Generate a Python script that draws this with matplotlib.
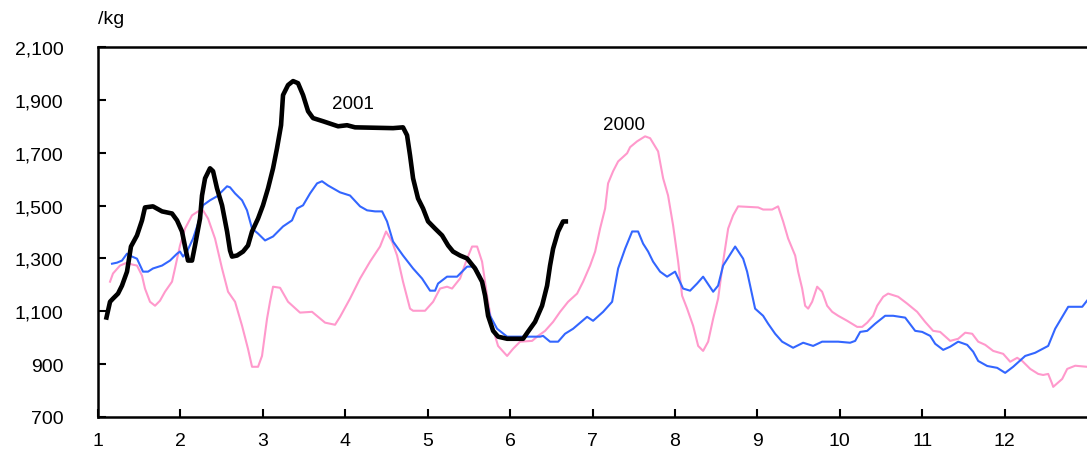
import matplotlib
matplotlib.use("Agg")
import matplotlib.pyplot as plt

plt.rcParams["font.family"] = ["Liberation Sans", "DejaVu Sans"]

# 2001 price path (month position, yen/kg)
m2001 = [1.097, 1.146, 1.182, 1.243, 1.291, 1.352, 1.400, 1.473, 1.534, 1.570,
         1.667, 1.777, 1.898, 1.959, 2.019, 2.056, 2.092, 2.141, 2.177, 2.238,
         2.262, 2.299, 2.359, 2.396, 2.444, 2.505, 2.566, 2.602, 2.626, 2.687,
         2.760, 2.820, 2.869, 2.942, 3.002, 3.063, 3.124, 3.172, 3.221, 3.245,
         3.306, 3.367, 3.427, 3.488, 3.549, 3.609, 3.731, 3.913, 4.022, 4.119,
         4.580, 4.701, 4.750, 4.786, 4.823, 4.883, 4.944, 5.005, 5.090, 5.175,
         5.248, 5.308, 5.393, 5.478, 5.575, 5.660, 5.697, 5.733, 5.794, 5.854,
         5.964, 6.158, 6.218, 6.303, 6.388, 6.449, 6.485, 6.522, 6.583, 6.643,
         6.704]
p2001 = [1068, 1136, 1148, 1167, 1197, 1250, 1345, 1387, 1444, 1493,
         1497, 1478, 1470, 1444, 1402, 1345, 1292, 1292, 1349, 1451,
         1538, 1603, 1641, 1630, 1565, 1501, 1402, 1330, 1307, 1311,
         1326, 1349, 1402, 1451, 1501, 1565, 1641, 1717, 1804, 1918,
         1956, 1971, 1963, 1918, 1857, 1831, 1819, 1800, 1804, 1796,
         1793, 1796, 1766, 1690, 1603, 1527, 1489, 1440, 1413, 1387,
         1349, 1326, 1311, 1300, 1262, 1212, 1159, 1083, 1026, 1004,
         996, 996, 1023, 1060, 1121, 1197, 1273, 1337, 1402, 1440,
         1440]

# 2000 price path
m2000 = [1.146, 1.182, 1.267, 1.352, 1.413, 1.473, 1.534, 1.570, 1.631, 1.692,
         1.752, 1.813, 1.898, 1.934, 1.995, 2.056, 2.141, 2.214, 2.274, 2.335,
         2.420, 2.505, 2.578, 2.663, 2.748, 2.820, 2.869, 2.942, 2.990, 3.051,
         3.087, 3.124, 3.209, 3.306, 3.451, 3.597, 3.755, 3.876, 3.937, 4.058,
         4.180, 4.301, 4.422, 4.495, 4.568, 4.629, 4.701, 4.786, 4.823, 4.968,
         5.066, 5.150, 5.235, 5.296, 5.393, 5.478, 5.539, 5.600, 5.660, 5.721,
         5.782, 5.854, 5.964, 6.036, 6.121, 6.267, 6.340, 6.425, 6.522, 6.607,
         6.704, 6.813, 6.886, 6.971, 7.032, 7.092, 7.153, 7.189, 7.250, 7.311,
         7.420, 7.456, 7.541, 7.638, 7.699, 7.796, 7.857, 7.917, 7.978, 8.039,
         8.087, 8.148, 8.221, 8.282, 8.342, 8.403, 8.464, 8.524, 8.585, 8.646,
         8.706, 8.767, 9.010, 9.070, 9.180, 9.252, 9.313, 9.374, 9.459, 9.495,
         9.544, 9.580, 9.617, 9.665, 9.726, 9.786, 9.847, 9.908, 9.981, 10.090,
         10.211, 10.272, 10.333, 10.405, 10.454, 10.527, 10.587, 10.709, 10.818, 10.939,
         11.036, 11.133, 11.218, 11.340, 11.437, 11.522, 11.607, 11.680, 11.765, 11.862,
         11.983, 12.068, 12.153, 12.214, 12.311, 12.408, 12.468, 12.529, 12.578, 12.590,
         12.699, 12.760, 12.857, 13.000]
p2000 = [1212, 1243, 1273, 1284, 1277, 1273, 1235, 1186, 1136, 1121,
         1140, 1174, 1212, 1262, 1349, 1413, 1463, 1478, 1482, 1451,
         1375, 1262, 1174, 1136, 1045, 958, 890, 890, 931, 1072,
         1136, 1193, 1189, 1136, 1095, 1098, 1057, 1049, 1079, 1148,
         1224, 1288, 1345, 1402, 1364, 1311, 1212, 1110, 1102, 1102,
         1136, 1186, 1193, 1186, 1224, 1299, 1345, 1345, 1288, 1159,
         1045, 969, 931, 958, 985, 988, 1007, 1026, 1060, 1098,
         1136, 1167, 1212, 1273, 1326, 1413, 1489, 1584, 1630, 1667,
         1698, 1721, 1743, 1762, 1755, 1705, 1603, 1538, 1425, 1288,
         1159, 1110, 1045, 969, 950, 985, 1072, 1148, 1288, 1413,
         1463, 1497, 1493, 1485, 1485, 1497, 1440, 1375, 1311, 1250,
         1186, 1121, 1110, 1136, 1193, 1174, 1121, 1098, 1083, 1064,
         1041, 1041, 1057, 1083, 1121, 1155, 1167, 1155, 1129, 1098,
         1060, 1026, 1022, 988, 996, 1019, 1015, 985, 973, 950,
         939, 909, 924, 912, 882, 863, 859, 863, 825, 814,
         844, 882, 894, 890]

# average price path
m_avg = [1.170, 1.231, 1.291, 1.352, 1.413, 1.473, 1.546, 1.607, 1.667, 1.777,
         1.874, 1.959, 1.995, 2.032, 2.080, 2.153, 2.214, 2.274, 2.359, 2.444,
         2.505, 2.566, 2.602, 2.663, 2.748, 2.808, 2.869, 2.942, 3.027, 3.124,
         3.245, 3.354, 3.415, 3.488, 3.573, 3.658, 3.718, 3.791, 3.937, 4.058,
         4.180, 4.265, 4.362, 4.447, 4.507, 4.580, 4.701, 4.823, 4.932, 5.029,
         5.090, 5.126, 5.235, 5.357, 5.478, 5.575, 5.636, 5.697, 5.757, 5.842,
         5.964, 6.364, 6.400, 6.485, 6.583, 6.667, 6.765, 6.934, 7.007, 7.129,
         7.238, 7.311, 7.396, 7.481, 7.553, 7.614, 7.675, 7.735, 7.820, 7.905,
         8.002, 8.099, 8.184, 8.269, 8.342, 8.464, 8.524, 8.585, 8.731, 8.828,
         8.876, 8.973, 9.070, 9.131, 9.216, 9.301, 9.434, 9.556, 9.677, 9.786,
         9.981, 10.126, 10.187, 10.248, 10.333, 10.430, 10.551, 10.648, 10.794, 10.915,
         11.000, 11.097, 11.158, 11.255, 11.340, 11.437, 11.546, 11.619, 11.680, 11.789,
         11.910, 12.007, 12.104, 12.250, 12.371, 12.529, 12.614, 12.699, 12.772, 12.942,
         13.000]
p_avg = [1280, 1284, 1292, 1318, 1307, 1299, 1250, 1250, 1262, 1273,
         1292, 1318, 1326, 1307, 1326, 1375, 1432, 1501, 1520, 1535,
         1554, 1573, 1569, 1546, 1520, 1482, 1413, 1394, 1368, 1383,
         1421, 1444, 1489, 1501, 1546, 1584, 1592, 1576, 1550, 1538,
         1497, 1482, 1478, 1478, 1440, 1364, 1311, 1262, 1224, 1178,
         1178, 1205, 1231, 1231, 1269, 1269, 1235, 1159, 1083, 1034,
         1004, 1004, 1007, 985, 985, 1015, 1034, 1079, 1064, 1098,
         1136, 1262, 1337, 1402, 1402, 1356, 1326, 1288, 1250, 1231,
         1250, 1186, 1178, 1205, 1231, 1174, 1197, 1273, 1345, 1299,
         1250, 1110, 1083, 1053, 1015, 985, 962, 981, 969, 985,
         985, 981, 988, 1022, 1026, 1053, 1083, 1083, 1076, 1026,
         1022, 1007, 977, 954, 966, 985, 973, 947, 912, 893,
         886, 867, 890, 931, 943, 969, 1034, 1079, 1117, 1117,
         1140]

month_ticks = list(range(1, 13))
price_ticks = [700, 900, 1100, 1300, 1500, 1700, 1900, 2100]
price_labels = ["700", "900", "1,100", "1,300", "1,500", "1,700", "1,900", "2,100"]

fig = plt.figure(figsize=(10.87, 4.64), dpi=100)
ax = fig.add_axes([98 / 1087, 1 - 418 / 464, 1 - 98 / 1087, (418 - 48) / 464])

ax.plot(m2000, p2000, color="#ff99cc", lw=1.5, zorder=2)
ax.plot(m_avg, p_avg, color="#3366ff", lw=1.5, zorder=3)
ax.plot(m2001, p2001, color="black", lw=3.3, zorder=4,
        solid_joinstyle="round", solid_capstyle="butt")

ax.set_xlim(1, 13)
ax.set_ylim(700, 2100)
ax.set_xticks(month_ticks)
ax.set_xticklabels([str(m) for m in month_ticks])
ax.set_yticks(price_ticks)
ax.set_yticklabels(price_labels)

ax.tick_params(axis="both", direction="in", length=6, width=1.5,
               labelsize=14, colors="black")
ax.tick_params(axis="y", pad=25)
ax.tick_params(axis="x", pad=11)

for side in ("left", "bottom", "top"):
    ax.spines[side].set_linewidth(1.8)
ax.spines["right"].set_visible(False)

ax.text(4.095, 1888, "2001", fontsize=13.5, ha="center", va="center")
ax.text(7.383, 1808, "2000", fontsize=13.5, ha="center", va="center")
fig.text(111 / 1087, 1 - 20 / 464, "/kg", fontsize=14, ha="center", va="center")

fig.savefig("out.png", dpi=100)
